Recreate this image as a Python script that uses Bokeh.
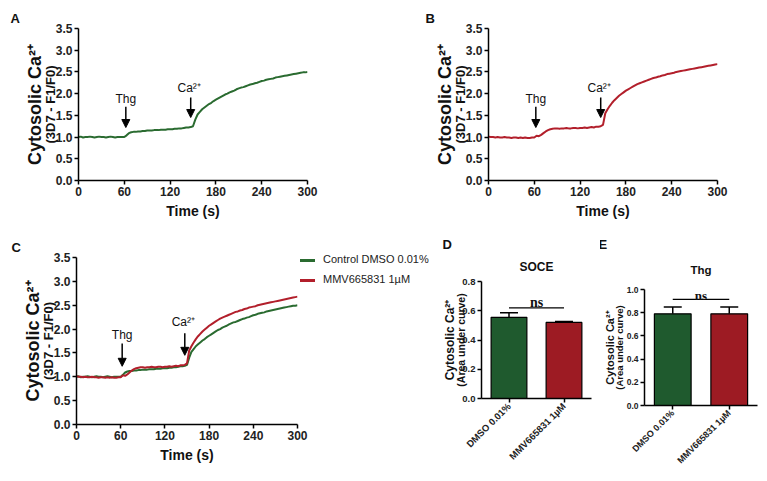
from math import pi
from bokeh.plotting import figure
from bokeh.layouts import column, row
from bokeh.models import (ColumnDataSource, Label, Arrow, NormalHead, FixedTicker,
                          NumeralTickFormatter, Whisker, TeeHead, Div,
                          FactorRange, Range1d, LinearAxis, Title)
from bokeh.embed import file_html
from bokeh.resources import INLINE

# ---------------- data ----------------
time_s = list(range(0, 301, 3))

control_dmso = [
    1.00, 1.01, 0.99, 1.00, 1.00, 1.01, 1.00, 0.99, 1.00, 1.01,
    1.00, 1.00, 0.99, 1.00, 1.01, 1.00, 0.99, 1.00, 1.00, 1.00,
    1.00, 1.04, 1.09, 1.11, 1.12, 1.12, 1.13, 1.13, 1.14, 1.14,
    1.15, 1.15, 1.15, 1.16, 1.16, 1.16, 1.17, 1.17, 1.17, 1.18,
    1.18, 1.18, 1.19, 1.19, 1.20, 1.20, 1.21, 1.22, 1.22, 1.23,
    1.25, 1.40, 1.52, 1.58, 1.64, 1.68, 1.72, 1.76, 1.79, 1.83,
    1.86, 1.89, 1.92, 1.95, 1.98, 2.00, 2.03, 2.05, 2.07, 2.10,
    2.12, 2.14, 2.15, 2.17, 2.19, 2.21, 2.22, 2.24, 2.25, 2.27,
    2.29, 2.30, 2.32, 2.33, 2.34, 2.35, 2.37, 2.38, 2.39, 2.40,
    2.41, 2.42, 2.43, 2.44, 2.45, 2.46, 2.47, 2.48, 2.49, 2.49,
    2.50]

mmv665831 = [
    1.01, 1.00, 1.00, 0.99, 1.00, 0.99, 0.99, 1.00, 0.99, 0.99,
    0.98, 0.99, 0.99, 0.98, 0.99, 0.98, 0.99, 0.98, 0.98, 0.99,
    0.99, 1.03, 1.02, 1.05, 1.09, 1.13, 1.16, 1.18, 1.19, 1.20,
    1.20, 1.19, 1.20, 1.20, 1.21, 1.20, 1.20, 1.21, 1.21, 1.20,
    1.21, 1.21, 1.22, 1.21, 1.22, 1.23, 1.22, 1.24, 1.24, 1.25,
    1.28, 1.55, 1.64, 1.72, 1.79, 1.85, 1.90, 1.95, 1.99, 2.03,
    2.07, 2.10, 2.13, 2.16, 2.19, 2.22, 2.24, 2.26, 2.28, 2.30,
    2.32, 2.34, 2.36, 2.37, 2.39, 2.40, 2.42, 2.43, 2.45, 2.46,
    2.47, 2.48, 2.50, 2.51, 2.52, 2.53, 2.54, 2.55, 2.56, 2.57,
    2.58, 2.59, 2.60, 2.61, 2.62, 2.63, 2.64, 2.65, 2.66, 2.67,
    2.68]

series_names = ["Control DMSO 0.01%", "MMV665831 1µM"]

time_ticks = [0, 60, 120, 180, 240, 300]
ca_ticks = [0.0, 0.5, 1.0, 1.5, 2.0, 2.5, 3.0, 3.5]

# event markers: [x, arrow top, arrow tip, text x, text y]
thg_event = [62, 1.70, 1.22, 62, 1.87]
ca_event = [147, 1.91, 1.45, 145, 2.14]

bar_categories = ["DMSO 0.01%", "MMV665831 1µM"]
soce_mean = [0.555, 0.520]
soce_err = [0.032, 0.007]
soce_ns_line = 0.62
soce_ns_text = 0.655
thg_mean = [0.79, 0.79]
thg_err = [0.06, 0.06]
thg_ns_line = 0.915
thg_ns_text = 0.945
soce_ticks = [0.0, 0.2, 0.4, 0.6, 0.8]
thg_ticks = [0.0, 0.2, 0.4, 0.6, 0.8, 1.0]

FONT = "Liberation Sans"
GREEN_LINE = "#2a6b30"
RED_LINE = "#b21f2b"
GREEN_BAR = "#1f5a2e"
RED_BAR = "#9d1b23"
TXT = "#111111"

src = ColumnDataSource(dict(t=time_s, g=control_dmso, r=mmv665831))


def style_axes(p, tick_size):
    p.outline_line_color = None
    p.xgrid.visible = False
    p.ygrid.visible = False
    for ax in p.axis:
        ax.axis_line_width = 1.5
        ax.axis_line_color = "black"
        ax.major_tick_line_width = 1.5
        ax.major_tick_line_color = "black"
        ax.major_tick_out = 4
        ax.major_tick_in = 0
        ax.minor_tick_out = 0
        ax.minor_tick_in = 0
        ax.major_label_text_font = FONT
        ax.major_label_text_font_style = "bold"
        ax.major_label_text_font_size = tick_size
        ax.major_label_text_color = "#222222"
        ax.major_label_standoff = 2


def label_axis(p, text, size, standoff):
    ax = LinearAxis(ticker=FixedTicker(ticks=[]), axis_line_color=None,
                    major_tick_out=0, major_tick_in=0, minor_tick_out=0,
                    minor_tick_in=0, major_label_standoff=0,
                    axis_label=text, axis_label_text_font=FONT,
                    axis_label_text_font_style="bold",
                    axis_label_text_font_size=size,
                    axis_label_text_color=TXT,
                    axis_label_standoff=standoff)
    p.add_layout(ax, "left")


def letter_title(p, letter, offset, standoff, valign="bottom"):
    p.title = Title(text=letter, align="left", offset=offset, standoff=standoff,
                    vertical_align=valign,
                    text_font=FONT, text_font_style="bold",
                    text_font_size="13px", text_color=TXT)


def trace_fig(width, height, bl, br, bt, bb, letter, letter_off, letter_so):
    p = figure(width=width, height=height, x_range=Range1d(0, 300),
               y_range=Range1d(0, 3.5), output_backend="svg",
               toolbar_location=None, min_border_left=bl, min_border_right=br,
               min_border_top=bt, min_border_bottom=bb, frame_align=False)
    style_axes(p, "12px")
    p.xaxis.ticker = FixedTicker(ticks=time_ticks)
    p.yaxis.ticker = FixedTicker(ticks=ca_ticks)
    p.yaxis.formatter = NumeralTickFormatter(format="0.0")
    p.xaxis.axis_label = "Time (s)"
    p.xaxis.axis_label_text_font = FONT
    p.xaxis.axis_label_text_font_style = "bold"
    p.xaxis.axis_label_text_font_size = "14px"
    p.xaxis.axis_label_text_color = TXT
    p.xaxis.axis_label_standoff = 4
    label_axis(p, "(3D7 - F1/F0)", "13px", -5)
    label_axis(p, "Cytosolic Ca²⁺", "18px", -5)
    letter_title(p, letter, letter_off, letter_so)
    for ev, txt in ((thg_event, "Thg"), (ca_event, "Ca²⁺")):
        p.add_layout(Arrow(x_start=ev[0], y_start=ev[1], x_end=ev[0], y_end=ev[2],
                           line_color="black", line_width=1.5,
                           end=NormalHead(size=8, fill_color="black",
                                          line_color="black")))
        p.add_layout(Label(x=ev[3], y=ev[4], text=txt, text_font=FONT,
                           text_font_size="12px", text_align="center",
                           text_baseline="middle", text_color=TXT))
    return p


# Panel A
pA = trace_fig(390, 230, 78, 83, 28, 50, "A", -68, 5)
pA.line("t", "g", source=src, line_color=GREEN_LINE, line_width=2)

# Panel B
pB = trace_fig(369, 230, 98, 42, 28, 50, "B", -63, 5)
pB.line("t", "r", source=src, line_color=RED_LINE, line_width=2)

# Panel C
pC = trace_fig(311, 243, 76, 14, 27, 49, "C", -65, 5)
pC.line("t", "g", source=src, line_color=GREEN_LINE, line_width=2)
pC.line("t", "r", source=src, line_color=RED_LINE, line_width=2)


def legend_row(name, color):
    return ('<div style="height:20px;line-height:20px;white-space:nowrap">'
            '<span style="display:inline-block;width:15px;height:0;'
            f'border-top:3px solid {color};vertical-align:middle;'
            f'margin-right:8px"></span>{name}</div>')


legend_div = Div(
    text=('<div style="font-family:\'Liberation Sans\';font-size:11px;'
          'color:#222222">'
          + legend_row(series_names[0], GREEN_LINE)
          + legend_row(series_names[1], RED_LINE) + '</div>'),
    width=130, height=44, margin=(19, 0, 0, -11))


def bar_fig(width, height, bl, br, bt, bb, ymax, ticks, means, errs,
            ns_line, ns_text, title, title_size, title_so, letter, letter_off,
            letter_so, tick_size, main_size, main_so, sub_size, sub_so,
            ns_size, cat_size):
    p = figure(width=width, height=height,
               x_range=FactorRange(factors=bar_categories, range_padding=0),
               y_range=Range1d(0, ymax), output_backend="svg",
               toolbar_location=None, min_border_left=bl, min_border_right=br,
               min_border_top=bt, min_border_bottom=bb, frame_align=False)
    style_axes(p, tick_size)
    p.yaxis.ticker = FixedTicker(ticks=ticks)
    p.yaxis.formatter = NumeralTickFormatter(format="0.0")
    p.xaxis.major_label_orientation = pi / 4
    p.xaxis.major_label_text_font_size = cat_size
    p.vbar(x=bar_categories, top=means, width=0.65,
           fill_color=[GREEN_BAR, RED_BAR], line_color="black", line_width=1.2)
    wsrc = ColumnDataSource(dict(x=bar_categories, lo=means,
                                 hi=[m + e for m, e in zip(means, errs)]))
    p.add_layout(Whisker(base="x", lower="lo", upper="hi", source=wsrc,
                         dimension="height", line_width=1.5, line_color="black",
                         lower_head=None,
                         upper_head=TeeHead(size=18, line_width=1.5,
                                            line_color="black")))
    p.line(x=bar_categories, y=[ns_line, ns_line], line_color="black",
           line_width=1.2)
    p.add_layout(Label(x=1.0, y=ns_text, text="ns",
                       text_font="Liberation Serif", text_font_style="bold",
                       text_font_size=ns_size, text_align="center",
                       text_baseline="alphabetic", text_color=TXT))
    label_axis(p, "(Area under curve)", sub_size, sub_so)
    label_axis(p, "Cytosolic Ca²⁺", main_size, main_so)
    letter_title(p, letter, letter_off, letter_so, "bottom")
    p.add_layout(Title(text=title, align="center", standoff=title_so,
                       vertical_align="top",
                       text_font=FONT, text_font_style="bold",
                       text_font_size=title_size, text_color=TXT), "above")
    return p


pD = bar_fig(170, 243, 51, 9, 51, 75, 0.8, soce_ticks, soce_mean, soce_err,
             soce_ns_line, soce_ns_text, "SOCE", "12px", 11, "D", -39, 6,
             "9.5px", "12px", -5, "10.5px", -7, "14px", "9.5px")
pE = bar_fig(159, 243, 44, 2, 59, 68, 1.0, thg_ticks, thg_mean, thg_err,
             thg_ns_line, thg_ns_text, "Thg", "11.5px", 24, "E", -46, 0,
             "8.5px", "11px", -5, "9.5px", -1, "13px", "9px")

layout = column(row(pA, pB), row(pC, legend_div, pD, pE))
open("out.html", "w").write(file_html(layout, INLINE))
